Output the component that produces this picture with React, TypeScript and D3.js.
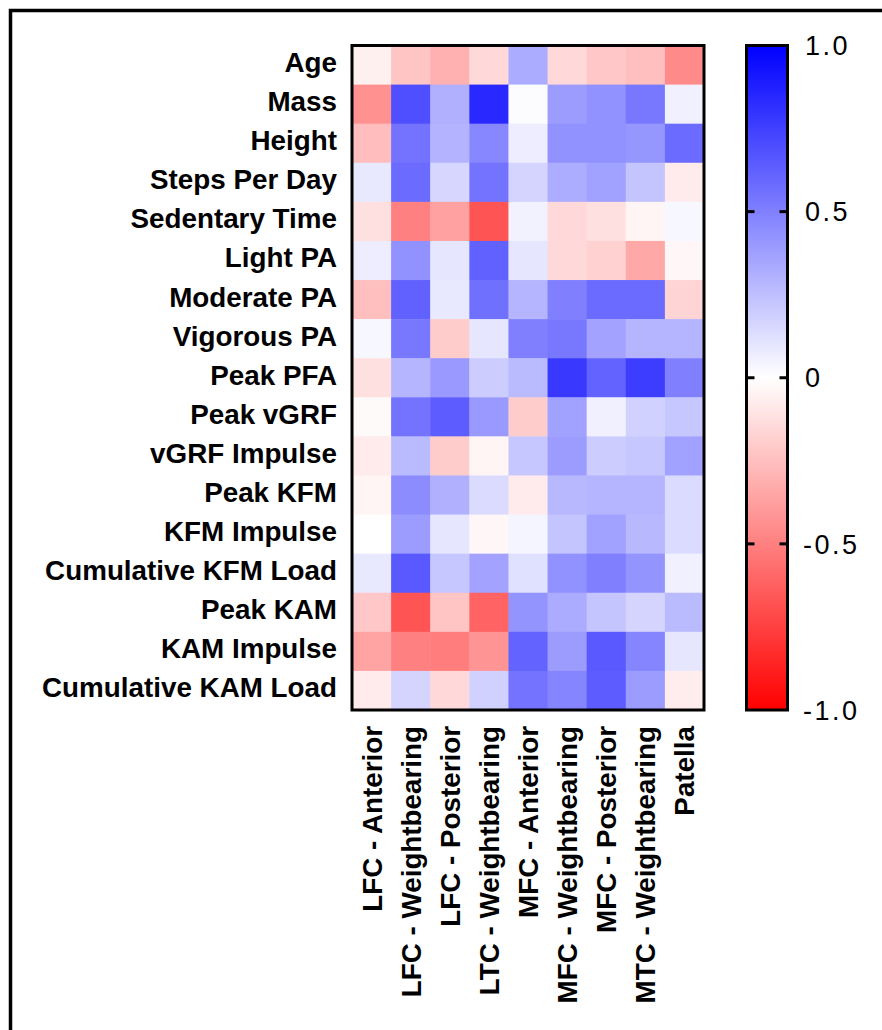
import React, { useEffect, useRef } from 'react';
import * as d3 from 'd3';

// row / column categories
const rowLabels = [
  'Age',
  'Mass',
  'Height',
  'Steps Per Day',
  'Sedentary Time',
  'Light PA',
  'Moderate PA',
  'Vigorous PA',
  'Peak PFA',
  'Peak vGRF',
  'vGRF Impulse',
  'Peak KFM',
  'KFM Impulse',
  'Cumulative KFM Load',
  'Peak KAM',
  'KAM Impulse',
  'Cumulative KAM Load',
];

const colLabels = [
  'LFC - Anterior',
  'LFC - Weightbearing',
  'LFC - Posterior',
  'LTC - Weightbearing',
  'MFC - Anterior',
  'MFC - Weightbearing',
  'MFC - Posterior',
  'MTC - Weightbearing',
  'Patella',
];

// correlation values, one array per row (columns in colLabels order)
const age = [-0.06, -0.23, -0.31, -0.15, 0.33, -0.15, -0.22, -0.25, -0.46];
const mass = [-0.43, 0.69, 0.31, 0.84, 0.01, 0.39, 0.43, 0.53, 0.06];
const heightR = [-0.26, 0.55, 0.3, 0.47, 0.07, 0.43, 0.43, 0.41, 0.58];
const stepsPerDay = [0.09, 0.58, 0.16, 0.55, 0.17, 0.32, 0.37, 0.23, -0.08];
const sedentaryTime = [-0.12, -0.5, -0.37, -0.67, 0.05, -0.15, -0.12, -0.04, 0.03];
const lightPA = [0.07, 0.43, 0.1, 0.62, 0.1, -0.15, -0.18, -0.34, -0.03];
const moderatePA = [-0.25, 0.62, 0.09, 0.56, 0.29, 0.5, 0.58, 0.58, -0.17];
const vigorousPA = [0.03, 0.53, -0.2, 0.1, 0.5, 0.53, 0.36, 0.29, 0.29];
const peakPFA = [-0.12, 0.29, 0.4, 0.2, 0.27, 0.78, 0.61, 0.76, 0.5];
const peakVGRF = [-0.02, 0.55, 0.64, 0.4, -0.2, 0.37, 0.06, 0.18, 0.22];
const vgrfImpulse = [-0.08, 0.27, -0.2, -0.04, 0.22, 0.39, 0.2, 0.22, 0.37];
const peakKFM = [-0.04, 0.45, 0.31, 0.14, -0.08, 0.28, 0.29, 0.29, 0.14];
const kfmImpulse = [0.0, 0.39, 0.1, -0.03, 0.04, 0.23, 0.37, 0.28, 0.14];
const cumulativeKFM = [0.09, 0.65, 0.22, 0.36, 0.12, 0.43, 0.5, 0.42, 0.06];
const peakKAM = [-0.22, -0.67, -0.23, -0.61, 0.42, 0.33, 0.23, 0.17, 0.27];
const kamImpulse = [-0.36, -0.5, -0.51, -0.42, 0.61, 0.39, 0.65, 0.48, 0.1];
const cumulativeKAM = [-0.08, 0.17, -0.15, 0.18, 0.55, 0.48, 0.64, 0.39, -0.07];

const rows = [
  age, mass, heightR, stepsPerDay, sedentaryTime, lightPA, moderatePA, vigorousPA,
  peakPFA, peakVGRF, vgrfImpulse, peakKFM, kfmImpulse, cumulativeKFM, peakKAM,
  kamImpulse, cumulativeKAM,
];

// colour bar ticks
const barTicks = [1, 0.5, 0, -0.5, -1];
const barTickLabels = ['1.0', '0.5', '0', '-0.5', '-1.0'];

export default function App() {
  const ref = useRef<SVGSVGElement>(null);

  useEffect(() => {
    const width = 882;
    const height = 1030;
    const font = '"Liberation Sans", Arial, Helvetica, sans-serif';

    const svg = d3.select(ref.current).attr('viewBox', [0, 0, width, height]);
    svg.selectAll('*').remove();

    // page frame (top + left edges only)
    svg.append('path')
      .attr('d', `M10.5,1030 V10.5 H882`)
      .attr('fill', 'none')
      .attr('stroke', '#000')
      .attr('stroke-width', 3.5);

    const x = d3.scaleBand<number>()
      .domain(d3.range(colLabels.length))
      .range([352, 704]);
    const y = d3.scaleBand<number>()
      .domain(d3.range(rowLabels.length))
      .range([45.5, 710]);

    const color = d3.scaleLinear<string>()
      .domain([-1, 0, 1])
      .range(['#ff0000', '#ffffff', '#0000ff'])
      .interpolate(d3.interpolateRgb);

    const cells = rows.flatMap((r, i) => r.map((v, j) => ({ i, j, v })));

    svg.append('g')
      .selectAll('rect')
      .data(cells)
      .enter()
      .append('rect')
      .attr('x', (d) => x(d.j)!)
      .attr('y', (d) => y(d.i)!)
      .attr('width', x.bandwidth() + 0.5)
      .attr('height', y.bandwidth() + 0.5)
      .attr('fill', (d) => color(d.v));

    // heatmap frame
    svg.append('rect')
      .attr('x', 352)
      .attr('y', 45.5)
      .attr('width', 352)
      .attr('height', 664.5)
      .attr('fill', 'none')
      .attr('stroke', '#000')
      .attr('stroke-width', 3);

    // row labels
    svg.append('g')
      .selectAll('text')
      .data(rowLabels)
      .enter()
      .append('text')
      .attr('x', 337)
      .attr('y', (d, i) => y(i)! + y.bandwidth() / 2 - 3)
      .attr('dy', '0.36em')
      .attr('text-anchor', 'end')
      .style('font-family', font)
      .style('font-weight', 'bold')
      .style('font-size', '27.8px')
      .text((d) => d);

    // column labels (rotated)
    svg.append('g')
      .selectAll('text')
      .data(colLabels)
      .enter()
      .append('text')
      .attr('transform', (d, j) => `translate(${x(j)! + x.bandwidth() / 2},726) rotate(-90)`)
      .attr('dy', '0.36em')
      .attr('text-anchor', 'end')
      .style('font-family', font)
      .style('font-weight', 'bold')
      .style('font-size', '27.8px')
      .text((d) => d);

    // colour bar
    const barX = 746.5;
    const barW = 41;
    const cb = d3.scaleLinear().domain([-1, 1]).range([710, 45.5]);

    const grad = svg.append('defs')
      .append('linearGradient')
      .attr('id', 'cbar')
      .attr('x1', 0).attr('y1', 1).attr('x2', 0).attr('y2', 0);
    d3.range(-1, 1.001, 0.25).forEach((t) => {
      grad.append('stop')
        .attr('offset', `${((t + 1) / 2) * 100}%`)
        .attr('stop-color', color(t));
    });

    svg.append('rect')
      .attr('x', barX)
      .attr('y', cb(1))
      .attr('width', barW)
      .attr('height', cb(-1) - cb(1))
      .attr('fill', 'url(#cbar)')
      .attr('stroke', '#000')
      .attr('stroke-width', 3);

    const tk = svg.append('g');
    barTicks.forEach((t, k) => {
      if (t !== 1 && t !== -1) {
        tk.append('line')
          .attr('x1', barX).attr('x2', barX + 8)
          .attr('y1', cb(t)).attr('y2', cb(t))
          .attr('stroke', '#000').attr('stroke-width', 3);
        tk.append('line')
          .attr('x1', barX + barW - 8).attr('x2', barX + barW)
          .attr('y1', cb(t)).attr('y2', cb(t))
          .attr('stroke', '#000').attr('stroke-width', 3);
      }
      tk.append('text')
        .attr('x', t < 0 ? 803 : 805)
        .attr('y', cb(t))
        .attr('dy', '0.36em')
        .style('font-family', font)
        .style('font-size', '27px')
        .style('letter-spacing', '2.5px')
        .text(barTickLabels[k]);
    });
  });

  return (
    <svg
      ref={ref}
      width={882}
      height={1030}
      style={{ position: 'absolute', left: 0, top: 0, background: '#fff' }}
    />
  );
}
